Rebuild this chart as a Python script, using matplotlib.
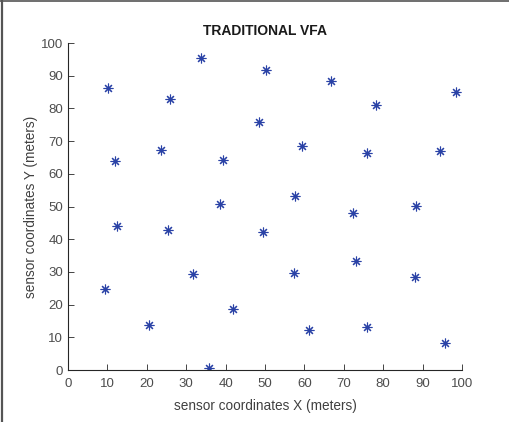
import matplotlib.pyplot as plt
from matplotlib.lines import Line2D

# sensor positions
x = [10.1, 26.0, 33.8, 50.3, 48.4, 66.8, 78.3, 98.6,
     12.0, 23.7, 39.4, 59.4, 76.0, 94.4,
     38.6, 57.7, 72.3, 88.4,
     12.4, 25.3, 49.4,
     31.7, 57.3, 73.0, 88.0,
     9.3, 20.6, 41.9, 61.1, 76.0, 95.8, 35.9]
y = [86.2, 82.8, 95.5, 91.8, 75.7, 88.3, 81.2, 84.9,
     64.0, 67.2, 64.3, 68.4, 66.3, 66.9,
     50.9, 53.1, 47.9, 50.3,
     44.1, 42.7, 42.1,
     29.4, 29.6, 33.2, 28.3,
     24.8, 13.8, 18.7, 12.2, 13.1, 8.2, 0.5]
ticks = list(range(0, 101, 10))

plt.rcParams['font.family'] = ['Liberation Sans', 'DejaVu Sans']

fig = plt.figure(figsize=(5.09, 4.22), dpi=100)
ax = fig.add_axes([0.1336, 0.1232, 0.774, 0.7748])

ax.plot(x, y, linestyle='none', marker=(8, 2, 0), markersize=7,
        markeredgewidth=0.8, color='#2a42a6')

ax.set_xlim(0, 100)
ax.set_ylim(0, 100)
ax.set_xticks(ticks)
ax.set_yticks(ticks)
ax.spines['top'].set_visible(False)
ax.spines['right'].set_visible(False)
for s in ['left', 'bottom']:
    ax.spines[s].set_color('#262626')
    ax.spines[s].set_linewidth(0.8)
ax.tick_params(direction='in', length=4, width=0.6, colors='#262626',
               labelcolor='#4d4d4d', labelsize=9.5)
ax.tick_params(axis='x', pad=6)

ax.set_title('TRADITIONAL VFA', fontsize=10, fontweight='bold', color='#1a1a1a', pad=6)
ax.set_xlabel('sensor coordinates X (meters)', fontsize=9.8, color='#404040', labelpad=6)
ax.set_ylabel('sensor coordinates Y (meters)', fontsize=9.8, color='#404040', labelpad=2)

# grey frame on left and top edges
fig.add_artist(Line2D([0.003, 0.003], [0, 1], color='#555555', linewidth=1.6, transform=fig.transFigure))
fig.add_artist(Line2D([0, 1], [0.997, 0.997], color='#555555', linewidth=1.2, transform=fig.transFigure))

fig.savefig('out.png', dpi=100)
